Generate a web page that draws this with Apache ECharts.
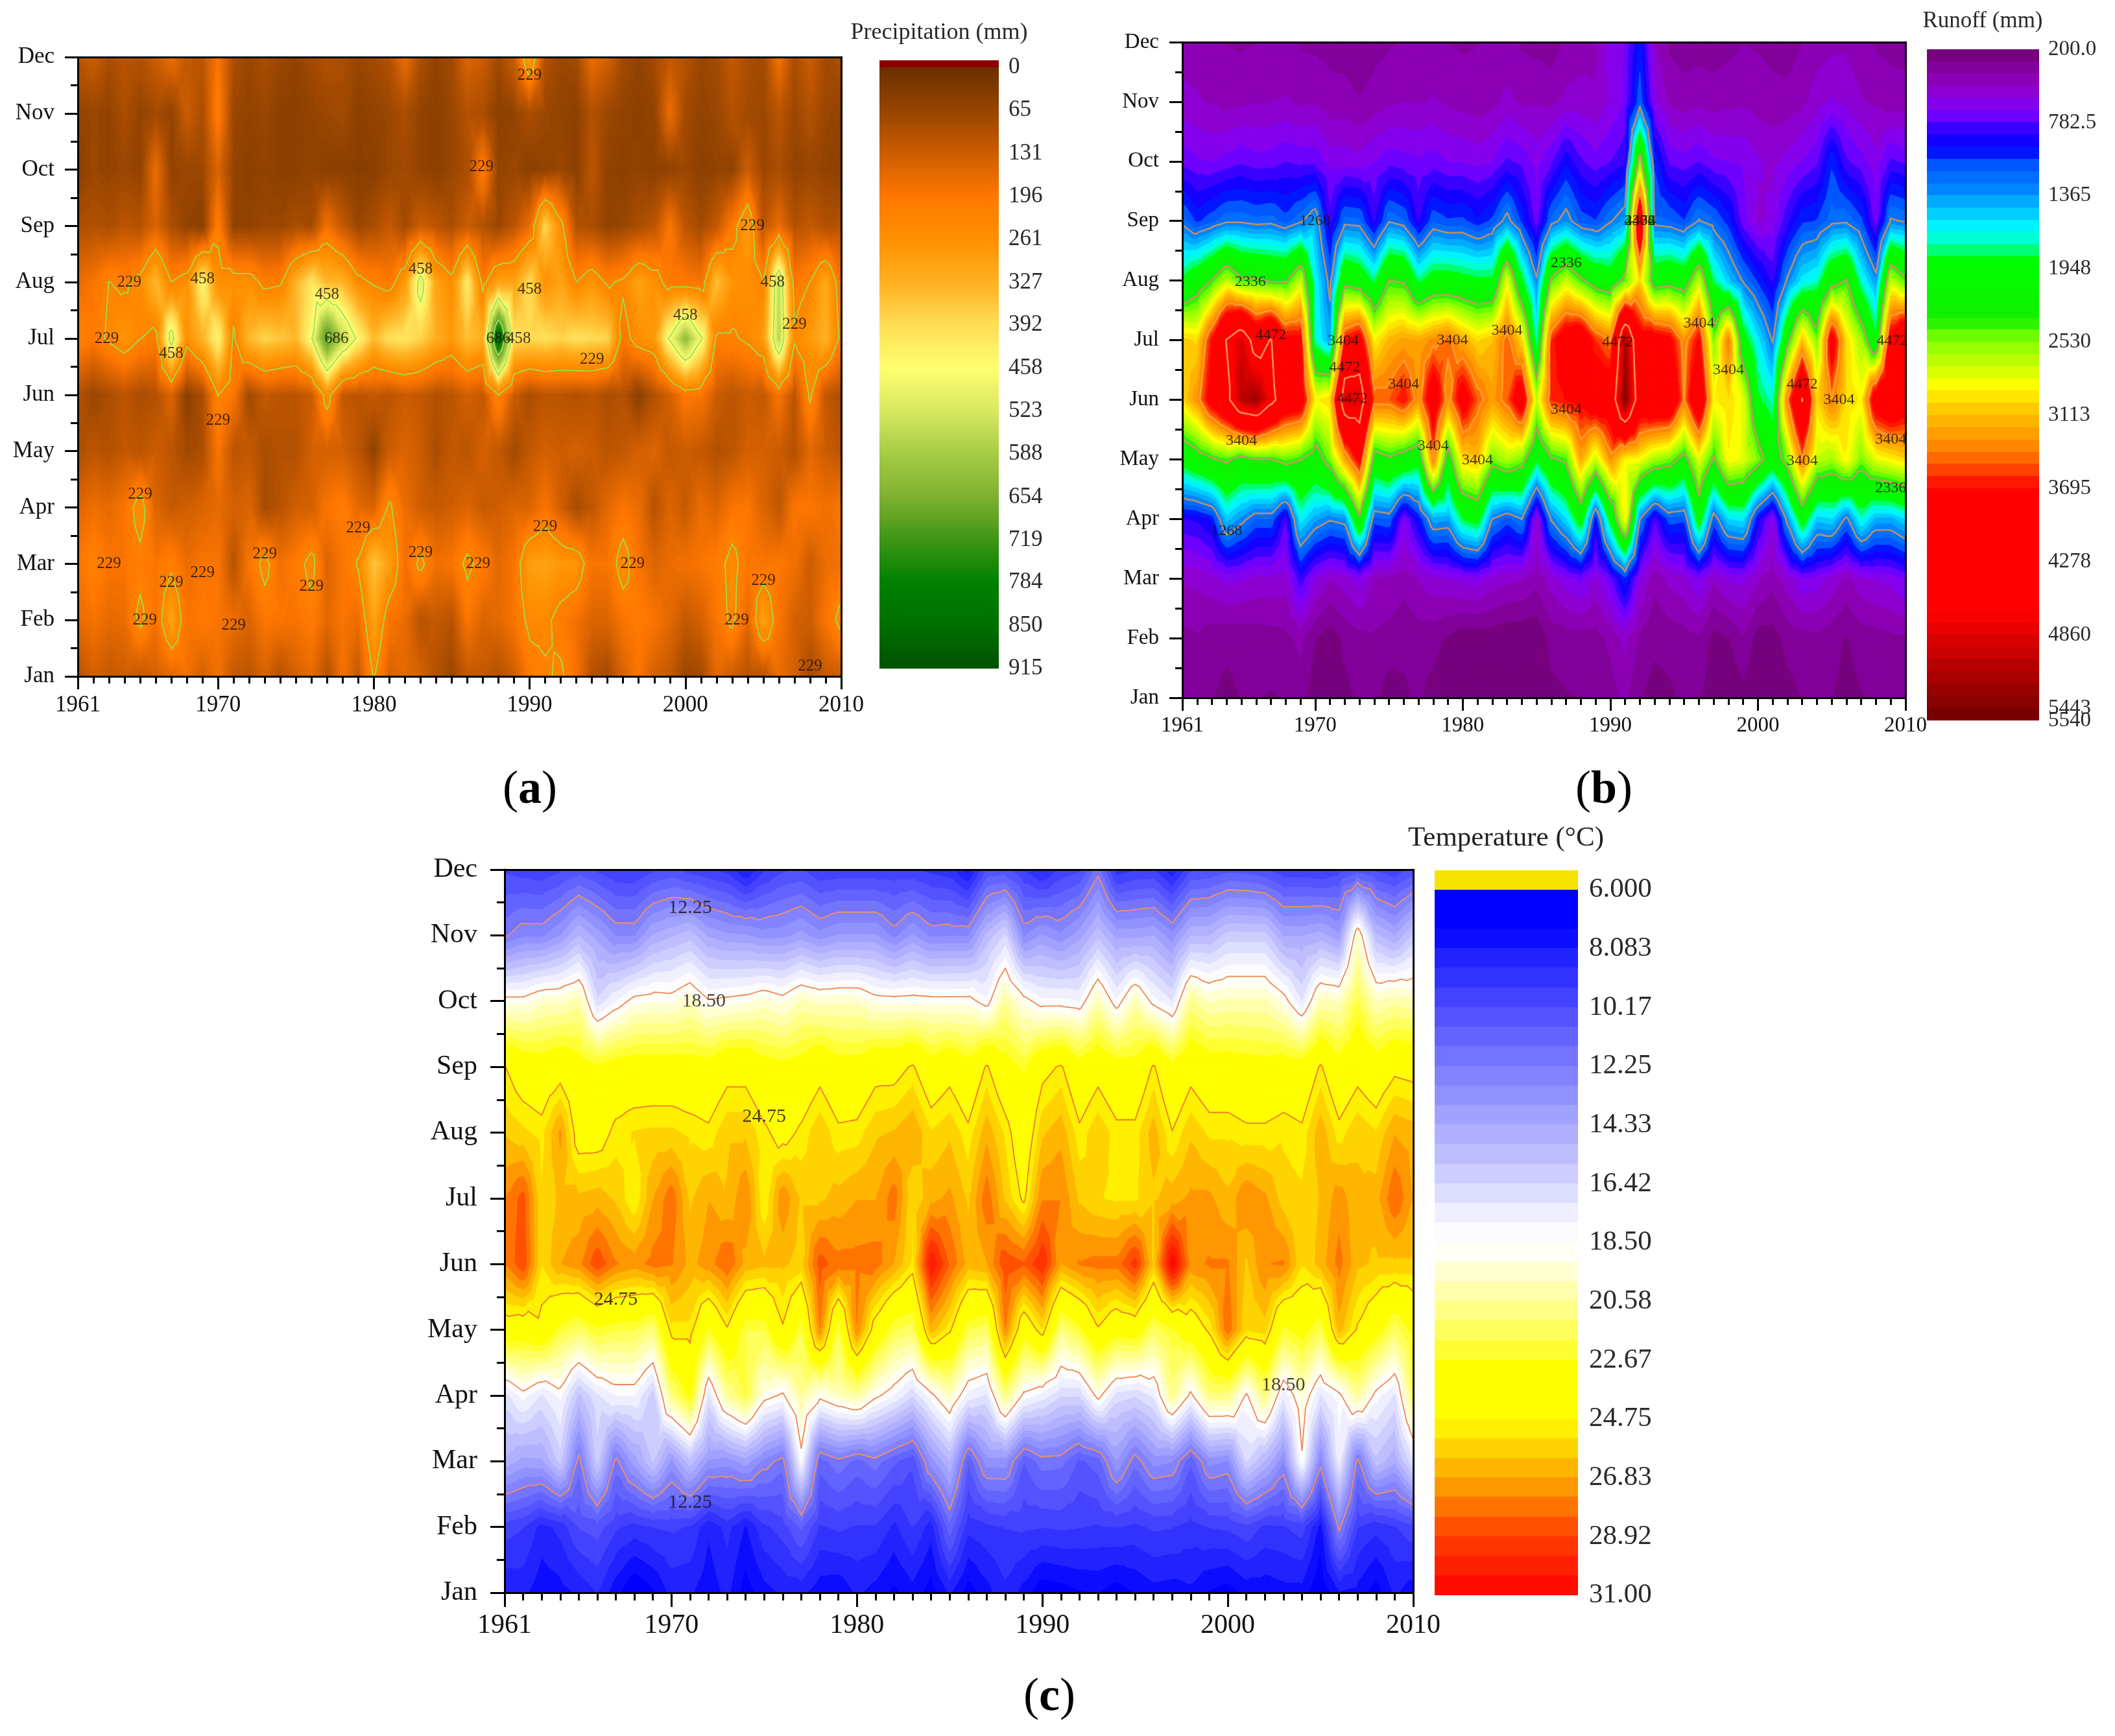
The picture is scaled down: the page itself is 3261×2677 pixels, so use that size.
<!DOCTYPE html>
<html><head><meta charset="utf-8">
<style>html,body{margin:0;padding:0;background:#fff}#c{width:3261px;height:2677px;filter:blur(0.7px)}</style>
<script src="https://cdn.jsdelivr.net/npm/echarts@6/dist/echarts.min.js"></script>
</head><body><div id="c"></div>
<script>
const months=['Jan','Feb','Mar','Apr','May','Jun','Jul','Aug','Sep','Oct','Nov','Dec'];
const yearLabels=[1961,1970,1980,1990,2000,2010];
// ---- (a) Precipitation, mm, 1961..2010
const pJan=[100,140,120,130,120,135,160,180,140,180,120,110,145,100,140,165,100,180,120,235,145,160,140,100,70,120,120,100,130,200,220,240,180,100,80,145,190,140,120,70,80,160,130,100,110,170,140,80,120,130];
const pFeb=[165,185,165,170,245,185,300,190,200,190,170,150,195,190,185,205,160,190,170,300,190,170,105,120,105,190,150,160,190,245,245,205,180,150,150,190,205,190,160,120,140,190,245,160,300,190,140,130,190,250];
const pMar=[190,220,190,190,210,190,215,170,190,190,105,190,250,180,205,250,150,190,235,360,290,180,245,180,190,245,205,160,190,290,300,280,270,190,190,260,190,150,170,180,190,205,250,195,190,195,180,130,170,180];
const pApr=[155,175,165,190,260,150,125,135,150,165,140,150,85,105,135,140,190,210,160,150,240,170,135,125,135,150,125,135,150,150,190,135,85,115,160,190,170,105,150,125,170,150,190,195,150,115,190,195,180,190];
const pMay=[90,110,100,120,110,130,110,80,90,190,110,120,90,100,100,140,140,140,110,60,130,150,130,90,120,110,140,120,80,120,140,130,140,130,110,120,140,150,120,130,120,100,110,140,140,130,100,160,130,110];
const pJun=[100,70,90,110,90,100,150,50,90,230,190,80,120,110,110,130,260,120,110,120,110,130,120,100,110,140,120,230,130,90,110,110,100,110,90,100,50,100,140,200,190,130,110,130,120,190,110,240,120,90];
const pJul=[220,200,240,270,230,210,500,260,330,440,220,340,380,360,340,450,720,560,440,340,400,410,380,320,280,350,320,880,400,390,400,380,400,390,380,200,260,280,470,620,470,220,220,240,280,560,240,280,330,210];
const pAug=[170,190,230,220,250,340,230,260,440,260,260,260,210,220,330,410,340,330,250,220,200,280,500,300,250,420,210,300,300,390,260,300,230,270,220,240,300,260,200,200,190,350,270,260,230,540,200,230,310,190];
const pSep=[90,100,90,110,100,150,90,60,50,210,60,60,70,70,90,80,180,120,70,90,120,80,130,110,90,130,100,70,110,170,380,250,100,90,60,70,90,110,190,110,80,120,200,290,110,170,100,120,100,100];
const pOct=[50,70,60,70,60,170,60,70,70,150,60,50,60,50,50,60,50,50,45,50,70,80,60,50,70,90,210,60,70,50,60,70,50,110,60,50,60,50,60,70,50,60,60,130,70,90,60,70,60,50];
const pNov=[60,70,60,90,60,80,60,130,90,210,70,60,70,50,50,60,70,80,50,60,70,90,60,50,70,100,90,50,60,90,70,60,50,100,70,60,50,60,170,80,60,70,100,80,70,110,70,100,70,60];
const pDec=[110,130,90,110,100,130,170,120,110,190,90,70,90,70,60,80,100,90,70,80,100,170,90,60,80,150,130,80,130,300,100,70,80,170,140,80,60,80,120,100,70,80,120,90,80,180,90,130,80,90];
// ---- (b) Runoff, mm
const rJan=[300,320,300,270,300,300,290,300,350,230,210,270,310,330,240,280,310,260,220,210,210,210,210,260,210,270,290,300,300,340,420,300,260,280,310,310,240,210,260,210,210,260,300,310,300,260,290,310,300,310];
const rFeb=[360,380,340,320,330,340,350,360,420,300,240,320,360,380,360,320,340,330,280,230,230,230,210,210,210,330,340,350,350,420,520,370,320,330,350,380,260,290,380,250,250,330,350,370,330,290,340,350,370,380];
const rMar=[500,520,560,620,600,560,560,540,850,600,500,540,640,480,470,430,500,560,580,620,640,560,520,500,430,540,640,720,560,740,1050,600,420,520,560,680,500,600,620,500,430,540,680,640,560,460,560,600,620,700];
const rApr=[870,900,1000,1500,1330,1160,1160,790,1620,1400,1290,1340,2230,1130,1170,660,970,1420,1390,1860,1980,1270,1130,1270,550,1290,1550,2030,970,1930,2900,1270,800,1130,1100,2030,1150,1550,1600,940,600,1340,2030,1500,1550,1220,1700,1420,1420,1550];
const rMay=[2000,2150,2300,2400,2200,2330,2330,2450,2350,2150,2500,3200,3800,2150,2280,2150,2000,3400,2100,3000,3100,2480,2650,2500,1900,2300,2400,3200,2700,3300,2900,2850,2600,2500,2200,2800,2300,2900,2800,2500,2100,2500,3400,2700,2600,2900,2500,2800,2900,3000];
const rJun=[3000,3300,3900,4300,5100,5250,4650,4100,4000,2900,3000,4900,4900,3500,3500,3700,3300,4000,3300,3900,3500,3250,3500,4000,2700,3600,3700,3800,4000,4000,5400,4100,4200,4200,3400,4200,2900,3000,2800,1900,1700,3400,4500,3000,3400,3000,2900,4000,4200,4000];
const rJul=[3050,3000,3700,4500,4900,4200,4500,3800,3800,1700,1400,3700,3900,2900,3150,3250,3200,3350,3450,3200,3000,3100,3500,3000,1700,3600,4000,4100,3600,3400,5200,3900,3900,3800,3300,3750,2500,3400,2000,1600,1250,2200,3100,2500,3900,3000,2600,1900,3900,4300];
const rAug=[1900,2100,2350,2700,2400,2380,2300,2300,2700,1650,1200,2200,2100,1800,2340,2300,1800,2000,2000,1950,1900,1900,2800,1900,1300,2400,2700,2400,2150,2050,2450,3000,2120,2200,2100,2700,1800,1500,1250,1050,850,1300,1600,1700,2200,2350,1700,1350,2700,2400];
const rSep=[1210,1050,1140,1240,1240,1200,1220,1120,1240,1400,820,1210,1190,850,1250,1180,860,1150,1090,1100,1000,1100,1340,1050,720,1200,1350,1130,1080,1250,1400,4300,1200,1170,1080,1280,1180,1020,720,560,620,850,1050,1080,1220,1240,1100,700,1290,1250];
const rOct=[750,700,680,720,760,720,730,780,750,750,640,640,620,680,740,720,700,730,680,680,650,680,800,750,640,760,950,800,720,780,850,2500,1050,760,720,780,700,680,670,600,560,620,680,760,1050,800,720,620,800,760];
const rNov=[520,500,480,450,470,480,490,500,470,480,430,430,400,430,470,490,480,500,470,450,430,460,520,470,480,460,520,530,510,600,700,1150,620,470,440,460,440,460,470,450,430,430,470,540,600,560,500,470,430,430];
const rDec=[440,460,420,390,380,390,400,420,380,370,360,350,320,360,380,400,420,430,390,380,390,400,420,380,360,340,410,440,460,640,690,1000,490,370,340,350,340,360,390,380,360,340,390,440,460,470,420,380,370,360];
// ---- (c) Temperature, degC
const tJan=[8.2,8.3,7.6,7.8,8.2,8.8,7.6,6.6,7.2,8.3,8.2,7.6,8.3,7,7.8,8.2,8.3,7.6,7.5,8.2,7.8,7.2,7.8,7,8.2,7,7.8,8.6,7.8,6.8,7,7.3,7.4,7,7.4,7.8,7.7,7.9,7.3,7,7.6,7.6,7.8,7.8,6.6,8,7.8,7,8.2,7.6];
const tFeb=[9.8,9.5,8.5,9,10.2,10.5,9.6,9.2,9.5,9.6,9.4,8.2,9,8,9.3,9.8,11,9.4,9.6,9.4,9.4,8.6,9.5,8.4,11.3,9,9.3,9.5,9.6,9.5,9.6,9.5,9.4,9.5,9.3,9.6,9.5,9.2,9.5,9.6,10,9.3,9.4,9.8,7.8,12.5,9.5,9,9.4,10];
const tMar=[14.8,14.1,14.2,16,11.9,16,12,14,15.8,13.5,15.5,13.5,13.3,14,12.7,11.9,18,11.2,12,11.3,11.9,11,10.3,13.3,15,11,13.3,13.3,10.9,11.9,11.8,10.7,11.2,13.6,11.8,13.2,13,11,13.2,12.9,16.5,15,13,18.3,12.7,17.5,12,15.5,14.5,17];
const tApr=[16.8,18.1,17,18,15.5,17,17.8,17.8,16,21,23,17,20.5,22,19,18.3,20.5,18.9,19.8,20.5,18.8,17.8,16.5,18.2,19.8,17.5,17,21,18.2,17.5,16.5,16.5,18.9,16.8,16.5,17.3,20.8,18.2,21,21,18.3,21,17.3,19.5,17,18.2,20.5,18.1,17,21.5];
const tMay=[23.9,23.7,24.3,22.3,21.5,22.5,22,22,21,25.2,25.2,22.5,24.6,22,22,24.6,22,27.5,22,27.5,24,22,21.5,26.5,25,22,21.5,27.5,23.4,25.4,21,22.3,24.6,23.3,23.6,21.5,22.5,23.6,25,28,25.5,25.8,22.4,23.3,21.8,26.5,24.6,23.3,21.5,23];
const tJun=[27.5,28.8,25.5,26.8,27.3,28.8,27.6,27.2,27.8,27.6,26.6,27.2,28.2,26.6,26.3,26.3,25.8,28.6,27.8,27.8,27.9,26.8,25.3,30.3,28.2,26.5,26.8,28.8,28.3,29.6,26.8,27.6,27.8,27.8,29.3,26,31,27.3,27.6,27.6,26,27.5,27.6,25.5,26.4,27.8,26.3,26,26,26];
const tJul=[27.5,28.5,25.5,26.3,26.3,26.5,26,24.8,26.8,28,26,26.8,26.2,27.5,24.8,27.4,26,26,26.4,26.8,26.8,27.9,25.5,26.6,27,26,28,26,24.5,27.5,27.5,26,25.5,25.3,25.3,26,26.5,27,27,26.3,27.5,27,25.8,25.6,26.2,27.2,26.3,26.5,28.2,26.8];
const tAug=[26,25.6,25.2,27,24,24,25.1,25.5,25.6,25.6,25.3,25,26,26,25,24.2,25,26,25,25.1,26,26.2,26.8,25.5,26,25,26.6,25.3,23.5,26,26.6,25,26,25.1,25.1,26.5,24.8,26,25.3,25.3,25,25,25.3,25,26.6,25.1,26,25.5,26.8,26.5];
const tSep=[24.8,23.8,23.5,24,23.4,22.8,23.4,23.5,23.5,23.5,23.4,23.3,24.2,24.2,23.3,23,23.3,24.2,23.3,23.3,24.2,24.2,24.9,23.5,24.2,23.3,24.9,23.3,22.5,24.3,24.9,23.3,24.2,23.3,23.3,24.9,23,24.2,23.5,23.5,23.3,23.2,23.5,23.3,24.9,23.3,24.2,23.5,24.4,24.2];
const tOct=[18.9,18.9,19.6,19.7,20.2,16.6,17.8,18.9,19.1,19,19.7,18.6,18.8,19,19.5,19,20,19.6,19.7,19.7,19,18.9,19,18.9,18.9,18.9,18,20.5,18.9,18,18,17.8,20,17.9,20,18.1,17.1,20.7,19.8,20,20,20,19,17.1,20,19.8,22,19.8,20.3,20];
const tNov=[12.1,12.8,12.8,13.6,15,14,12.9,12.9,14.4,14.9,15.4,14.2,13.8,13.7,13.3,13.4,13.9,13.2,13.7,13.7,13.7,12.7,13.7,12.8,12.9,12.9,15.2,16.5,12.9,13.7,13.1,14,15.5,14.1,14.1,14.3,13.2,15,15,16,16,16,14.3,14.3,14.6,13.8,19.5,15.2,14.3,15.8];
const tDec=[10,9.8,9.6,10,10.5,10,9.5,9.4,10,10.3,9.8,9.5,9.2,8,9.3,10,10.2,9.5,9.6,9.6,9.6,9.6,9.6,9.2,9,7.8,10.2,10.4,9.4,8.6,9.6,10,11.9,9,9.4,9.5,8.2,10,10.2,10.6,10.5,10.2,9.6,9.6,9.4,9.8,10.5,10,9.6,10.4];
// colour-bar tick labels
const pTicks=['0','65','131','196','261','327','392','458','523','588','654','719','784','850','915'];
const rTicks=['200.0','782.5','1365','1948','2530','3113','3695','4278','4860','5540'];
const tTicks=['6.000','8.083','10.17','12.25','14.33','16.42','18.50','20.58','22.67','24.75','26.83','28.92','31.00'];
// contour labels: year, month index, text
const pNotes=[[1990,10.67,'229'],[1986.9,9.05,'229'],[2004.3,8,'229'],[1964.3,7,'229'],[1962.85,6,'229'],[2007,6.25,'229'],[1994,5.63,'229'],[1970,4.55,'229'],[1965,3.23,'229'],[1979,2.63,'229'],[1991,2.66,'229'],[1963,2,'229'],[1973,2.17,'229'],[1983,2.19,'229'],[1986.7,2,'229'],[1996.6,2,'229'],[1969,1.84,'229'],[1967,1.66,'229'],[1976,1.6,'229'],[2005,1.7,'229'],[1965.3,1,'229'],[1971,0.9,'229'],[2003.3,1,'229'],[2008,0.18,'229'],[1969,7.05,'458'],[1977,6.78,'458'],[1983,7.23,'458'],[1990,6.87,'458'],[2005.6,7,'458'],[2000,6.41,'458'],[1967,5.73,'458'],[1989.3,6,'458'],[1977.6,6,'686'],[1988,6,'686']];
const rNotes=[[1970,8,'1268'],[1964,2.8,'1268'],[1965.6,6.98,'2336'],[1987,7.29,'2336'],[2009,3.52,'2336'],[1992,8,'2336'],[1971.9,5.99,'3404'],[1979.3,6,'3404'],[1983,6.16,'3404'],[1996,6.28,'3404'],[1998,5.5,'3404'],[1976,5.26,'3404'],[1987,4.83,'3404'],[2005.5,5,'3404'],[1965,4.31,'3404'],[1978,4.22,'3404'],[1981,3.99,'3404'],[2003,3.97,'3404'],[2009,4.33,'3404'],[1992,8,'3404'],[1967,6.09,'4472'],[1972,5.54,'4472'],[1990.5,5.97,'4472'],[2003,5.26,'4472'],[2009.1,5.99,'4472'],[1992,8,'4472'],[1972.5,5.02,'4472']];
const tNotes=[[1971,10.42,'12.25'],[1971,1.37,'12.25'],[1971.75,9,'18.50'],[2003,3.16,'18.50'],[1975,7.24,'24.75'],[1967,4.46,'24.75']];
const pLevels=[229,458,686], rLevels=[1268,2336,3404,4472], tLevels=[12.25,18.5,24.75];
// colour stops
const pStops=[[0,'#6b2f00'],[65,'#964400'],[131,'#cc5c00'],[196,'#ff7700'],[261,'#ff9000'],[327,'#ffb020'],[392,'#ffdd55'],[458,'#ffff70'],[523,'#d8e860'],[588,'#a5cc45'],[654,'#80b030'],[719,'#3f9515'],[784,'#008000'],[850,'#007000'],[915,'#005000']];
const rStops=[[200,'#700070'],[480,'#9000c0'],[700,'#8000ff'],[880,'#2000ff'],[1000,'#0000ff'],[1090,'#0050ff'],[1300,'#0080ff'],[1560,'#00e0ff'],[1640,'#00ffff'],[1780,'#00ffa0'],[1860,'#00ff00'],[2340,'#10f000'],[2510,'#80ff00'],[2880,'#ffff00'],[3100,'#ffc000'],[3330,'#ff9000'],[3480,'#ff6000'],[3630,'#ff2000'],[3690,'#ff0000'],[4680,'#ff0000'],[5060,'#c00000'],[5540,'#700000']];
const tStops=[[6,'#0000ff'],[7.4,'#0000ff'],[8.1,'#1a1aff'],[12.25,'#7c7cff'],[14.33,'#a8a8ff'],[16.42,'#d5d5ff'],[17.8,'#f8f8ff'],[18.5,'#ffffff'],[19,'#fffff0'],[20.58,'#ffff99'],[22.67,'#ffff20'],[23,'#ffff00'],[24.75,'#ffff00'],[26.83,'#ffa800'],[28.92,'#ff4000'],[31,'#ff0000']];

function hex(c){return [1,3,5].map(i=>parseInt(c.substr(i,2),16));}
function colorAt(stops,v){
  if(v<=stops[0][0])return stops[0][1];
  for(let k=1;k<stops.length;k++){ if(v<=stops[k][0]){
    const a=hex(stops[k-1][1]),b=hex(stops[k][1]),f=(v-stops[k-1][0])/(stops[k][0]-stops[k-1][0]);
    return 'rgb('+a.map((x,i)=>Math.round(x+(b[i]-x)*f)).join(',')+')';
  }}
  return stops[stops.length-1][1];
}
function makeBands(stops,n){
  const lo=stops[0][0],hi=stops[stops.length-1][0],out=[];
  for(let k=0;k<n;k++){const a=lo+(hi-lo)*k/n,b=lo+(hi-lo)*(k+1)/n;out.push({lo:a,hi:b,color:colorAt(stops,(a+b)/2)});}
  return out;
}
function clip(poly,lev,above){
  const out=[];
  for(let i=0;i<poly.length;i++){
    const p=poly[i],q=poly[(i+1)%poly.length];
    const pin=above?p[2]>=lev:p[2]<=lev, qin=above?q[2]>=lev:q[2]<=lev;
    if(pin)out.push(p);
    if(pin!==qin){const f=(lev-p[2])/(q[2]-p[2]);out.push([p[0]+(q[0]-p[0])*f,p[1]+(q[1]-p[1])*f,lev]);}
  }
  return out;
}
function cellTriangles(Z,i,j){
  const x=1961+i,a=Z[j][i],b=Z[j][i+1],c=Z[j+1][i+1],d=Z[j+1][i],m=(a+b+c+d)/4;
  const P=[[x,j,a],[x+1,j,b],[x+1,j+1,c],[x,j+1,d]],C=[x+.5,j+.5,m];
  return [0,1,2,3].map(k=>[P[k],P[(k+1)%4],C]);
}
function fillRender(Z,bands){
  const last=bands.length-1;
  return function(params,api){
    const i=api.value(2),j=api.value(3),children=[];
    cellTriangles(Z,i,j).forEach(t=>{
      const vs=t.map(p=>p[2]),mn=Math.min(...vs),mx=Math.max(...vs);
      bands.forEach((b,bi)=>{
        const lo=bi===0?-1e9:b.lo,hi=bi===last?1e9:b.hi;
        if(hi<mn||lo>mx)return;
        let poly=clip(t,lo,true); if(poly.length<3)return;
        poly=clip(poly,hi,false); if(poly.length<3)return;
        children.push({type:'polygon',silent:true,shape:{points:poly.map(p=>api.coord([p[0],p[1]]))},style:{fill:b.color,stroke:b.color,lineWidth:1}});
      });
    });
    return {type:'group',children};
  };
}
function lineRender(Z,levels,lineColor,lw){
  return function(params,api){
    const i=api.value(2),j=api.value(3),children=[];
    cellTriangles(Z,i,j).forEach(t=>{
      levels.forEach((lev,li)=>{
        const pts=[];
        for(let k=0;k<3;k++){const p=t[k],q=t[(k+1)%3];
          if((p[2]<lev)!==(q[2]<lev)){const f=(lev-p[2])/(q[2]-p[2]);pts.push(api.coord([p[0]+(q[0]-p[0])*f,p[1]+(q[1]-p[1])*f]));}
        }
        if(pts.length===2)children.push({type:'line',silent:true,shape:{x1:pts[0][0],y1:pts[0][1],x2:pts[1][0],y2:pts[1][1]},style:{stroke:lineColor[li],lineWidth:lw,lineCap:'round'}});
      });
    });
    return {type:'group',children};
  };
}
const FONT='"Liberation Serif"';
const grid=[],xAxis=[],yAxis=[],series=[];
function addPanel(cfg){
  const gi=grid.length;
  grid.push({left:cfg.l,top:cfg.t,width:cfg.w,height:cfg.h});
  const xBase=xAxis.length,yBase=yAxis.length;
  const line={lineStyle:{color:'#000',width:3}};
  xAxis.push({type:'value',gridIndex:gi,min:1961,max:2010,z:10,position:'bottom',splitLine:{show:false},axisLine:line,
    axisTick:{show:true,customValues:yearLabels,length:cfg.longTick,lineStyle:{color:'#000',width:3}},
    axisLabel:{show:true,customValues:yearLabels,margin:cfg.xm,fontFamily:FONT,fontSize:cfg.fs,color:'#111',formatter:v=>String(v)}});
  xAxis.push({type:'value',gridIndex:gi,min:1961,max:2010,interval:1,z:10,position:'bottom',splitLine:{show:false},axisLine:line,
    axisTick:{show:true,length:cfg.shortTick,lineStyle:{color:'#000',width:3}},axisLabel:{show:false}});
  xAxis.push({type:'value',gridIndex:gi,min:1961,max:2010,z:10,position:'top',splitLine:{show:false},axisLine:line,axisTick:{show:false},axisLabel:{show:false}});
  yAxis.push({type:'value',gridIndex:gi,min:0,max:11,interval:1,z:10,position:'left',splitLine:{show:false},axisLine:line,
    axisTick:{show:true,length:cfg.longTick,lineStyle:{color:'#000',width:3}},
    minorTick:{show:true,splitNumber:2,length:cfg.shortTick,lineStyle:{color:'#000',width:3}},
    axisLabel:{show:true,margin:cfg.ym,fontFamily:FONT,fontSize:cfg.fs,color:'#111',formatter:v=>months[v]}});
  yAxis.push({type:'value',gridIndex:gi,min:0,max:11,z:10,position:'right',splitLine:{show:false},axisLine:line,axisTick:{show:false},axisLabel:{show:false}});
  const cells=[];
  for(let j=0;j<11;j++)for(let i=0;i<49;i++)cells.push([1961+i,j,i,j]);
  const common={type:'custom',coordinateSystem:'cartesian2d',xAxisIndex:xBase,yAxisIndex:yBase,data:cells,encode:{x:0,y:1},animation:false,silent:true,progressive:0,clip:true};
  series.push(Object.assign({},common,{z:2,renderItem:fillRender(cfg.Z,cfg.bands)}));
  series.push(Object.assign({},common,{z:3,renderItem:lineRender(cfg.Z,cfg.levels,cfg.lineColor,cfg.lw)}));
  series.push({type:'scatter',coordinateSystem:'cartesian2d',xAxisIndex:xBase,yAxisIndex:yBase,z:4,symbolSize:1,silent:true,animation:false,itemStyle:{color:'transparent'},
    label:{show:true,position:'inside',formatter:'{b}',fontFamily:FONT,fontSize:cfg.noteFs,color:'#1a1208'},
    labelLayout:{hideOverlap:false},
    data:cfg.notes.map(n=>({value:[n[0],n[1]],name:n[2]}))});
  // colour bar
  const gb=grid.length;
  grid.push({left:cfg.cb.l,top:cfg.cb.t,width:cfg.cb.w,height:cfg.cb.h});
  const xb=xAxis.length,yb=yAxis.length;
  xAxis.push({type:'value',gridIndex:gb,min:0,max:1,show:false});
  const tickVals=cfg.ticks.map(Number);
  yAxis.push({type:'value',gridIndex:gb,inverse:true,min:cfg.cb.min,max:cfg.cb.max,position:'right',splitLine:{show:false},axisLine:{show:false},axisTick:{show:false},
    axisLabel:{show:true,customValues:tickVals,hideOverlap:false,showMaxLabel:true,showMinLabel:true,margin:cfg.cb.m,fontFamily:FONT,fontSize:cfg.cb.fs,color:'#2a2a2a',
      formatter:v=>{const k=tickVals.indexOf(v);return k>=0?cfg.ticks[k]:'';}}});
  const barBands=cfg.bands.slice();
  if(cfg.cb.over)barBands.unshift({lo:cfg.cb.min,hi:cfg.bands[0].lo,color:cfg.cb.over});
  series.push({type:'custom',coordinateSystem:'cartesian2d',xAxisIndex:xb,yAxisIndex:yb,silent:true,animation:false,z:2,encode:{x:0,y:1},
    data:barBands.map(b=>[0,b.lo,b.hi]),
    renderItem:(params,api)=>{
      const b=barBands[params.dataIndex],p=api.coord([0,b.lo]),q=api.coord([1,b.hi]);
      return {type:'rect',shape:{x:p[0],y:Math.floor(p[1]),width:q[0]-p[0],height:Math.ceil(q[1])-Math.floor(p[1])},style:{fill:b.color}};
    }});
}
const rowsP=[pJan,pFeb,pMar,pApr,pMay,pJun,pJul,pAug,pSep,pOct,pNov,pDec];
const rowsR=[rJan,rFeb,rMar,rApr,rMay,rJun,rJul,rAug,rSep,rOct,rNov,rDec];
const rowsT=[tJan,tFeb,tMar,tApr,tMay,tJun,tJul,tAug,tSep,tOct,tNov,tDec];
addPanel({l:120,t:88,w:1177,h:955,Z:rowsP,bands:makeBands(pStops,150),levels:pLevels,lineColor:['#9be24e','#8fe060','#a0e878'],lw:1.6,notes:pNotes,noteFs:25,fs:35,xm:27,ym:36,longTick:20,shortTick:11,ticks:pTicks,
  cb:{l:1356,t:93,w:184,h:938,min:-11,max:915,over:'#8a0000',m:15,fs:35}});
addPanel({l:1823,t:65,w:1115,h:1011,Z:rowsR,bands:makeBands(rStops,55),levels:rLevels,lineColor:['#b8906a','#c49a60','#ff9a30','#ff8a50'],lw:2.6,notes:rNotes,noteFs:24,fs:33,xm:27,ym:36,longTick:20,shortTick:11,ticks:rTicks,
  cb:{l:2971,t:76,w:173,h:1035,min:200,max:5540,m:14,fs:33}});
addPanel({l:778,t:1341,w:1401,h:1115,Z:rowsT,bands:makeBands(tStops,36),levels:tLevels,lineColor:['#f09060','#f08850','#f07a30'],lw:1.8,notes:tNotes,noteFs:30,fs:42,xm:30,ym:42,longTick:22,shortTick:12,ticks:tTicks,
  cb:{l:2212,t:1342,w:221,h:1118,min:5.31,max:31,over:'#f5e400',m:17,fs:43}});

function txt(x,y,text,size,color,rich,align){
  return {type:'text',x,y,silent:true,z:20,style:{text,fontFamily:FONT,fontSize:size,fill:color,align:align||'center',verticalAlign:'middle',rich:rich||undefined}};
}
const letterRich=s=>({b:{fontFamily:FONT,fontSize:s,fontWeight:'bold',fill:'#000'}});
const graphic=[
  txt(1448,51,'Precipitation (mm)',36,'#2a2a2a'),
  txt(3057,33,'Runoff (mm)',35,'#2a2a2a'),
  txt(2322,1293,'Temperature (°C)',43,'#222'),
  txt(3158,1092,'5443',33,'#2a2a2a',null,'left'),
  txt(817,1219,'({b|a})',72,'#000',letterRich(72)),
  txt(2473,1219,'({b|b})',72,'#000',letterRich(72)),
  txt(1618,2618,'({b|c})',72,'#000',letterRich(72))
];
const chart=echarts.init(document.getElementById('c'),null,{renderer:'canvas',width:3261,height:2677});
chart.setOption({animation:false,backgroundColor:'#fff',grid,xAxis,yAxis,series,graphic});
</script></body></html>
